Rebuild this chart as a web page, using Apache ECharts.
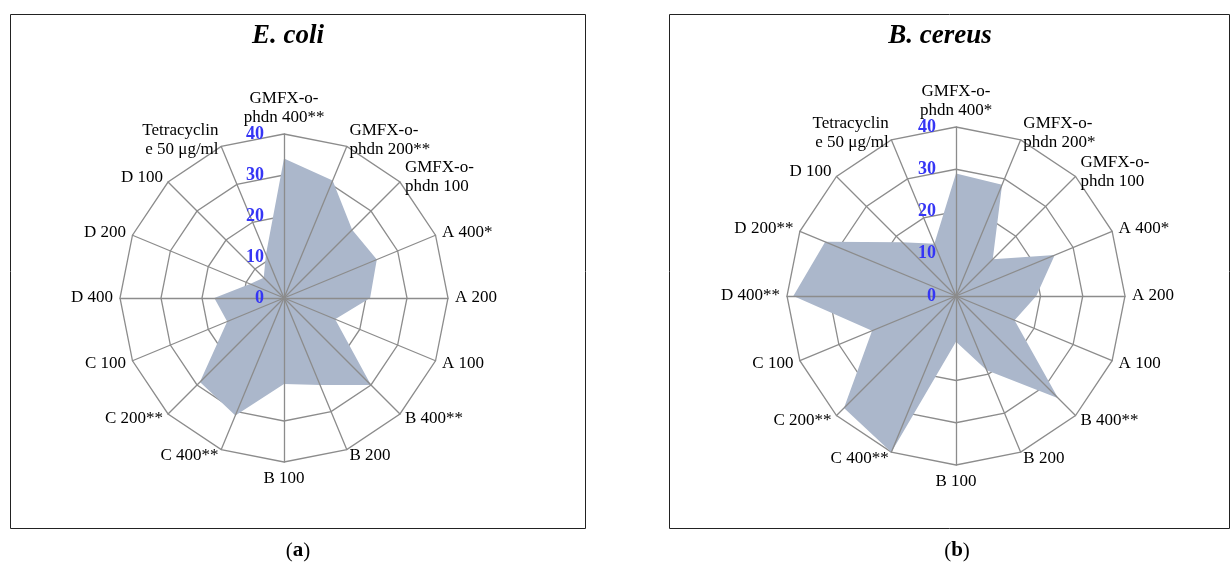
<!DOCTYPE html>
<html>
<head>
<meta charset="utf-8">
<script src="https://cdn.jsdelivr.net/npm/echarts@6/dist/echarts.min.js"></script>
<style>
  html, body { margin: 0; padding: 0; background: #fff; }
  #chart { width: 1231px; height: 570px; }
</style>
</head>
<body>
<div id="chart"></div>
<script>
// Categories, clockwise from the top
const categoriesEcoli = [
  'GMFX-o-\nphdn 400**', 'GMFX-o-\nphdn 200**', 'GMFX-o-\nphdn 100', 'A 400*', 'A 200', 'A 100',
  'B 400**', 'B 200', 'B 100', 'C 400**', 'C 200**', 'C 100', 'D 400', 'D 200', 'D 100',
  'Tetracyclin\ne 50 μg/ml'
];
const categoriesBcereus = [
  'GMFX-o-\nphdn 400*', 'GMFX-o-\nphdn 200*', 'GMFX-o-\nphdn 100', 'A 400*', 'A 200', 'A 100',
  'B 400**', 'B 200', 'B 100', 'C 400**', 'C 200**', 'C 100', 'D 400**', 'D 200**', 'D 100',
  'Tetracyclin\ne 50 μg/ml'
];
// Values (same clockwise order)
const ecoliValues   = [34, 31, 23.5, 24.5, 21, 13.5, 30, 23, 21, 31, 29, 15, 17, 9, 7, 11.5];
const bcereusValues = [29, 28.5, 12.3, 25.3, 19, 15, 34.2, 19, 10.8, 40, 37.5, 21.5, 38.5, 33.5, 18, 13.4];
// Tick labels
const tickLabels = [0, 10, 20, 30, 40];
const titles = ['E. coli', 'B. cereus'];
const captions = ['a', 'b'];

const SERIF = '"Liberation Serif", "Times New Roman", serif';
const AXIS_MIN = tickLabels[0];
const AXIS_MAX = tickLabels[tickLabels.length - 1];
const AXIS_STEP = tickLabels[1] - tickLabels[0];

// ECharts radar runs counter-clockwise; reorder so drawing is clockwise
const cw = arr => [arr[0]].concat(arr.slice(1).reverse());

const panels = [
  { cx: 284, cy: 298, r: 164, cats: categoriesEcoli, vals: ecoliValues },
  { cx: 956, cy: 296, r: 169, cats: categoriesBcereus, vals: bcereusValues }
];

const radars = [];
const series = [];
const grids = [];
const xAxes = [];
const yAxes = [];

panels.forEach((p, i) => {
  const indicator = cw(p.cats).map(n => ({ name: n, min: AXIS_MIN, max: AXIS_MAX }));
  // base radar: rings + names
  radars.push({
    center: [p.cx, p.cy], radius: p.r, startAngle: 90, splitNumber: 4, shape: 'polygon',
    indicator: indicator, nameGap: 7, z: 1,
    axisName: { color: '#000', fontFamily: SERIF, fontSize: 17, lineHeight: 19 },
    splitLine: { lineStyle: { color: '#8c8c8c', width: 1.3 } },
    splitArea: { show: false },
    axisLine: { show: false },
    axisTick: { show: false },
    axisLabel: { show: false }
  });
  // overlay radar: spokes drawn above the filled area
  radars.push({
    center: [p.cx, p.cy], radius: p.r, startAngle: 90, splitNumber: 4, shape: 'polygon',
    indicator: indicator, z: 5, silent: true,
    axisName: { show: false },
    splitLine: { show: false },
    splitArea: { show: false },
    axisLine: { lineStyle: { color: '#8c8c8c', width: 1.3 } },
    axisTick: { show: false },
    axisLabel: { show: false }
  });
  series.push({
    type: 'radar', radarIndex: i * 2, z: 3, symbol: 'none', silent: true,
    lineStyle: { width: 0, opacity: 0 },
    areaStyle: { color: '#abb7cb', opacity: 1 },
    data: [{ value: cw(p.vals) }]
  });
  // value-axis labels along the top spoke
  grids.push({ left: p.cx, top: p.cy - p.r, width: 1, height: p.r, containLabel: false, show: false, z: 10 });
  xAxes.push({ gridIndex: i, type: 'value', show: false });
  yAxes.push({
    gridIndex: i, type: 'value', min: AXIS_MIN, max: AXIS_MAX, interval: AXIS_STEP, z: 10,
    axisLine: { show: false }, axisTick: { show: false }, splitLine: { show: false },
    axisLabel: { color: '#3535f5', fontFamily: SERIF, fontSize: 18, fontWeight: 'bold', margin: 20 }
  });
});

const graphic = [
  { type: 'rect', z: -1, shape: { x: 10.5, y: 14.5, width: 575, height: 514 },
    style: { fill: '#fff', stroke: '#222', lineWidth: 1 } },
  { type: 'rect', z: -1, shape: { x: 669.5, y: 14.5, width: 560, height: 514 },
    style: { fill: '#fff', stroke: '#222', lineWidth: 1 } },
  { type: 'text', x: 288, y: 36, style: { text: titles[0], fill: '#000', align: 'center', verticalAlign: 'middle',
    font: 'italic bold 27px ' + SERIF } },
  { type: 'text', x: 940, y: 36, style: { text: titles[1], fill: '#000', align: 'center', verticalAlign: 'middle',
    font: 'italic bold 27px ' + SERIF } },
  { type: 'text', x: 298, y: 551, style: { text: '{p|(}{b|' + captions[0] + '}{p|)}', align: 'center', verticalAlign: 'middle',
    rich: { p: { fontFamily: SERIF, fontSize: 21, fill: '#000' }, b: { fontFamily: SERIF, fontSize: 21, fontWeight: 'bold', fill: '#000' } } } },
  { type: 'text', x: 957, y: 551, style: { text: '{p|(}{b|' + captions[1] + '}{p|)}', align: 'center', verticalAlign: 'middle',
    rich: { p: { fontFamily: SERIF, fontSize: 21, fill: '#000' }, b: { fontFamily: SERIF, fontSize: 21, fontWeight: 'bold', fill: '#000' } } } }
];

const chart = echarts.init(document.getElementById('chart'));
chart.setOption({
  animation: false,
  backgroundColor: '#fff',
  radar: radars,
  grid: grids,
  xAxis: xAxes,
  yAxis: yAxes,
  series: series,
  graphic: graphic
});
</script>
</body>
</html>
